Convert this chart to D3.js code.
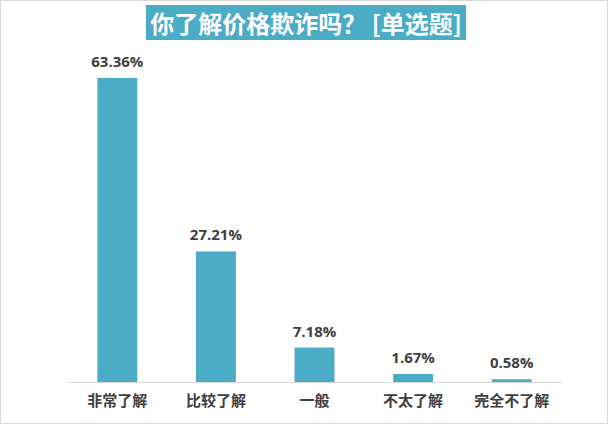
<!DOCTYPE html>
<html><head><meta charset="utf-8">
<script src="https://cdn.jsdelivr.net/npm/d3@7"></script>
<style>body{margin:0;background:#fff;}svg{display:block;}</style>
</head><body>
<svg id="c" width="608" height="424"></svg>
<script>
const title = "你了解价格欺诈吗？ [单选题]";
const categories = ["非常了解","比较了解","一般","不太了解","完全不了解"];
const values = [63.36, 27.21, 7.18, 1.67, 0.58];

const svg = d3.select("#c");
const W = 608, H = 424;
svg.append("rect").attr("x",0.5).attr("y",0.5).attr("width",W-1).attr("height",H-1)
  .attr("fill","#fff").attr("stroke","#d9d9d9");

const x = d3.scaleBand().domain(categories).range([68,561]).paddingInner(0.595).paddingOuter(0.2975);
const y = d3.scaleLinear().domain([0,63.36]).range([382,78]);

svg.append("rect").attr("x",146).attr("y",5).attr("width",320).attr("height",35).attr("fill","#4BACC6");
svg.append("text").attr("x",306).attr("y",22).attr("text-anchor","middle").attr("dominant-baseline","central")
  .attr("fill","#fff").attr("font-family","'Noto Sans CJK SC'").attr("font-weight","bold").attr("font-size",24)
  .text(title);

svg.selectAll("rect.bar").data(values).enter().append("rect").attr("class","bar")
  .attr("x",(d,i)=>x(categories[i])).attr("width",x.bandwidth())
  .attr("y",d=>y(d)).attr("height",d=>382-y(d)).attr("fill","#4BACC6");

svg.selectAll("text.val").data(values).enter().append("text").attr("class","val")
  .attr("x",(d,i)=>x(categories[i])+x.bandwidth()/2).attr("y",d=>y(d)-11)
  .attr("text-anchor","middle").attr("fill","#404040").attr("font-family","'Open Sans', 'Noto Sans'")
  .attr("font-weight","bold").attr("font-size",15).text(d=>d.toFixed(2)+"%");

const ax = svg.append("g").attr("transform","translate(0,382)").call(d3.axisBottom(x).tickSize(0).tickPadding(13));
ax.select(".domain").attr("stroke","#d9d9d9").attr("d","M68,0.5H561");
ax.selectAll("text").attr("fill","#404040").attr("font-family","'Noto Sans CJK SC'")
  .attr("font-weight","bold").attr("font-size",15);
</script>
</body></html>
